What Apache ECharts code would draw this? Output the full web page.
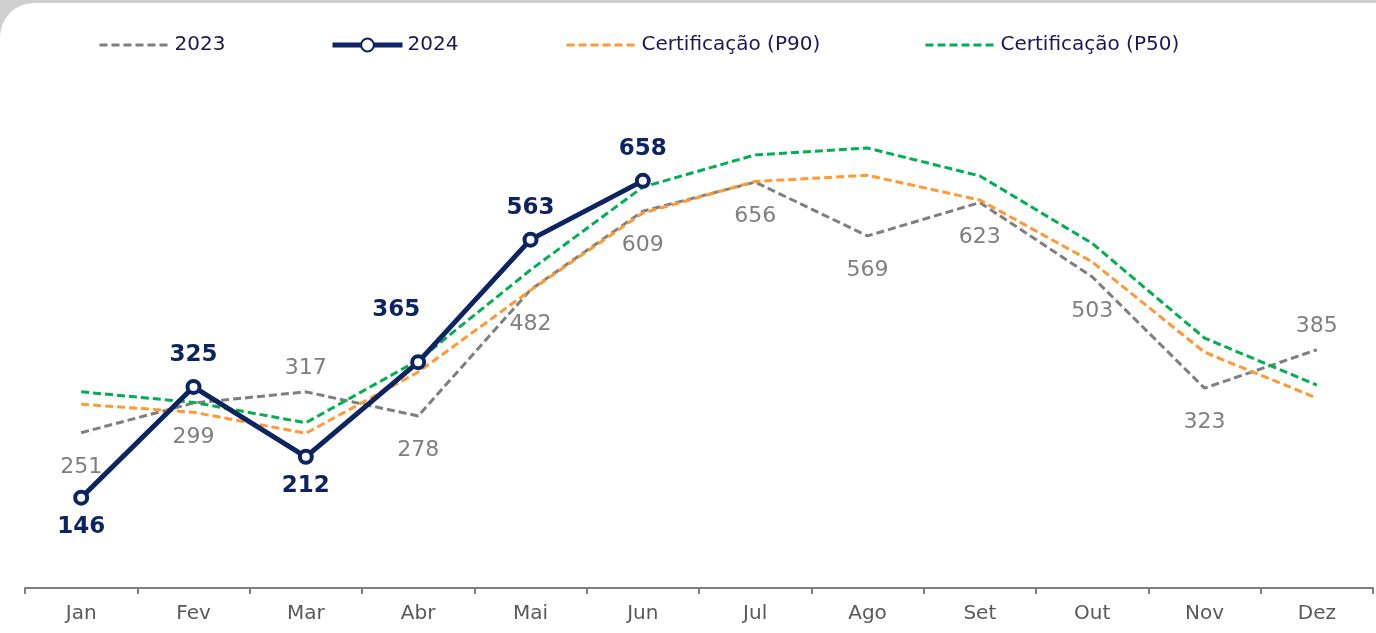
<!DOCTYPE html>
<html>
<head>
<meta charset="utf-8">
<script src="https://cdn.jsdelivr.net/npm/echarts@6/dist/echarts.min.js"></script>
<style>
  html, body { margin: 0; padding: 0; background: #cfcfcf; }
  #wrap { position: absolute; left: 0; top: 3px; width: 1376px; height: 630px; background: #fff; border-top-left-radius: 34px; }
  #chart { width: 1376px; height: 633px; position: absolute; left: 0; top: -3px; }
</style>
</head>
<body>
<div id="wrap"><div id="chart"></div></div>
<script>
const months = ['Jan','Fev','Mar','Abr','Mai','Jun','Jul','Ago','Set','Out','Nov','Dez']
const values2023 = [251,299,317,278,482,609,656,569,623,503,323,385]
const values2024 = [146,325,212,365,563,658]
const valuesP90 = [297,284,250,349,481,606,657,667,627,527,381,307]
const valuesP50 = [317,300,267,368,514,648,700,711,666,557,404,328]

// label placement per point (top / bottom)
const pos2023 = ['bottom','bottom','top','bottom','bottom','bottom','bottom','bottom','bottom','bottom','bottom','top']
const pos2024 = ['bottom','top','bottom','top','top','top']

const navy = '#0c2461'
const font = 'DejaVu Sans'
const dash = [8, 4]

const chart = echarts.init(document.getElementById('chart'))

// one legend per item so each can sit where the original has it
function legendAt(item, left) {
  return {
    data: [item],
    left: left,
    top: 35,
    padding: 0,
    itemWidth: 70,
    itemHeight: 16,
    itemGap: 8,
    textStyle: { color: '#1e1654', fontSize: 20, fontFamily: font }
  }
}

const option = {
  animation: false,
  backgroundColor: 'transparent',
  legend: [
    legendAt({ name: '2023', itemStyle: { opacity: 0 }, lineStyle: { width: 3 } }, 98),
    legendAt({ name: '2024', lineStyle: { width: 5 } }, 330),
    legendAt({ name: 'Certificação (P90)', itemStyle: { opacity: 0 }, lineStyle: { width: 3 } }, 565),
    legendAt({ name: 'Certificação (P50)', itemStyle: { opacity: 0 }, lineStyle: { width: 3 } }, 924)
  ],
  grid: { left: 25, right: 3, top: 93, bottom: 45 },
  xAxis: {
    type: 'category',
    data: months,
    boundaryGap: true,
    axisLine: { lineStyle: { color: '#7f7f7f', width: 2 } },
    axisTick: { show: true, length: 6, lineStyle: { color: '#7f7f7f', width: 2 } },
    axisLabel: { color: '#595959', fontSize: 20, fontFamily: font, margin: 16 }
  },
  yAxis: {
    type: 'value',
    min: 0,
    max: 800,
    show: false,
    splitLine: { show: false }
  },
  series: [
    {
      name: '2023',
      type: 'line',
      data: values2023.map((v, i) => ({
        value: v,
        label: { position: pos2023[i], distance: pos2023[i] === 'top' ? 12 : 23 }
      })),
      symbol: 'circle',
      symbolSize: 1,
      z: 2,
      lineStyle: { color: '#7f7f7f', width: 3, type: dash },
      itemStyle: { color: 'rgba(0,0,0,0)' },
      label: {
        show: true,
        color: '#7f7f7f',
        fontSize: 22,
        fontFamily: font
      }
    },
    {
      name: 'Certificação (P90)',
      type: 'line',
      data: valuesP90,
      symbol: 'none',
      z: 3,
      lineStyle: { color: '#ff9933', width: 3, type: dash },
      itemStyle: { color: '#ff9933' }
    },
    {
      name: 'Certificação (P50)',
      type: 'line',
      data: valuesP50,
      symbol: 'none',
      z: 4,
      lineStyle: { color: '#00b050', width: 3, type: dash },
      itemStyle: { color: '#00b050' }
    },
    {
      name: '2024',
      type: 'line',
      data: values2024.map((v, i) => ({
        value: v,
        label: i === 3
          ? { position: 'top', distance: 12, offset: [-22, -21] }
          : { position: pos2024[i], distance: pos2024[i] === 'top' ? 12 : 10 }
      })),
      symbol: 'circle',
      symbolSize: 12,
      z: 5,
      lineStyle: { color: navy, width: 5 },
      itemStyle: { color: '#fff', borderColor: navy, borderWidth: 4 },
      label: {
        show: true,
        color: navy,
        fontSize: 23,
        fontWeight: 'bold',
        fontFamily: font
      }
    }
  ]
}

chart.setOption(option)
</script>
</body>
</html>
